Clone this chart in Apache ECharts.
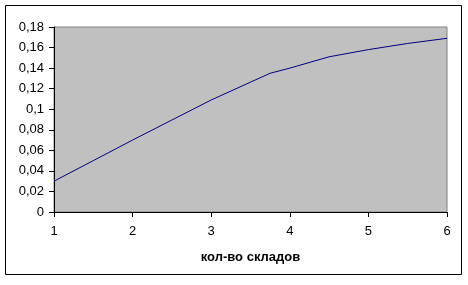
<!DOCTYPE html>
<html>
<head>
<meta charset="utf-8">
<script src="https://cdn.jsdelivr.net/npm/echarts@6/dist/echarts.min.js"></script>
<style>
html,body{margin:0;padding:0;background:#fff;}
#c{width:468px;height:285px;}
</style>
</head>
<body>
<div id="c"></div>
<script>
var xValues = [1, 1.5, 2, 2.5, 3, 3.75, 4, 4.5, 5, 5.5, 6];
var yValues = [0.03, 0.05, 0.07, 0.0895, 0.109, 0.135, 0.140, 0.151, 0.158, 0.164, 0.169];
var xTitle = 'кол-во складов';

var chart = echarts.init(document.getElementById('c'), null, {renderer: 'canvas'});
var font = 'Liberation Sans, Arial, sans-serif';
chart.setOption({
  animation: false,
  backgroundColor: '#ffffff',
  graphic: [{
    type: 'rect',
    shape: {x: 5.5, y: 5.5, width: 456, height: 269},
    style: {fill: 'none', stroke: '#000', lineWidth: 1},
    silent: true
  }],
  grid: {
    left: 54, right: 21, top: 27, bottom: 73,
    show: true, backgroundColor: '#c0c0c0', borderColor: '#808080', borderWidth: 1
  },
  xAxis: {
    type: 'value', min: 1, max: 6, interval: 1,
    name: xTitle, nameLocation: 'middle', nameGap: 39,
    nameTextStyle: {fontFamily: font, fontSize: 13, fontWeight: 'bold', color: '#000'},
    axisLine: {show: true, lineStyle: {color: '#000', width: 1}},
    axisTick: {show: true, inside: false, length: 5, lineStyle: {color: '#000'}},
    axisLabel: {fontFamily: font, fontSize: 13, color: '#000', margin: 13},
    splitLine: {show: false}
  },
  yAxis: {
    type: 'value', min: 0, max: 0.18, interval: 0.02,
    axisLine: {show: true, lineStyle: {color: '#000', width: 1}},
    axisTick: {show: true, inside: false, length: 5, lineStyle: {color: '#000'}},
    axisLabel: {fontFamily: font, fontSize: 13, color: '#000', margin: 10,
      formatter: function (v) { return String(Math.round(v * 100) / 100).replace('.', ','); }},
    splitLine: {show: false}
  },
  series: [{
    type: 'line',
    data: xValues.map(function (x, i) { return [x, yValues[i]]; }),
    showSymbol: false,
    smooth: false,
    lineStyle: {color: '#000080', width: 1},
    itemStyle: {color: '#000080'}
  }]
});
</script>
</body>
</html>
